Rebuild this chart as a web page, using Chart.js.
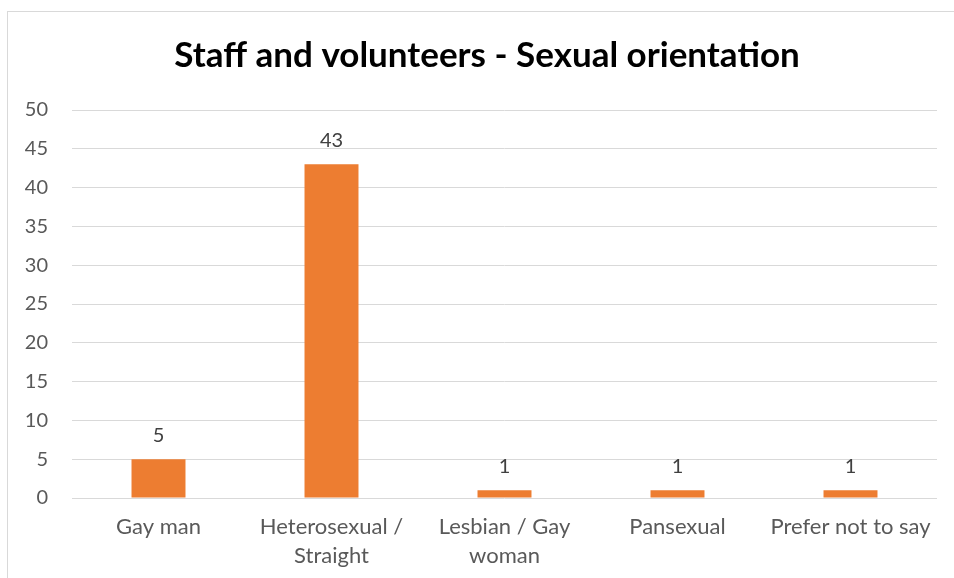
<!DOCTYPE html>
<html>
<head>
<meta charset="utf-8">
<script src="https://cdn.jsdelivr.net/npm/chart.js@4"></script>
<style>
  html, body { margin: 0; padding: 0; background: #fff; overflow: hidden; }
  #frame {
    position: absolute; left: 7px; top: 11px; width: 960px; height: 580px;
    border-left: 1px solid #d9d9d9; border-top: 1px solid #d9d9d9;
  }
  #grafico { position: absolute; left: 0; top: 0; }
</style>
</head>
<body>
<div id="frame"></div>
<canvas id="grafico" width="954" height="578"></canvas>
<script>
// Categorias y cantidades
const categorias = [
  "Gay man",
  ["Heterosexual /", "Straight"],
  ["Lesbian / Gay", "woman"],
  "Pansexual",
  "Prefer not to say"
];
const cantidades = [5, 43, 1, 1, 1];
const titulo = 'Staff and volunteers - Sexual orientation';

const naranja = '#ED7D31';
const fuente = 'Lato, "Open Sans", sans-serif';

// Titulo centrado sobre el recuadro del grafico
const tituloCentrado = {
  id: 'tituloCentrado',
  afterDraw(chart) {
    const ctx = chart.ctx;
    ctx.save();
    ctx.font = 'bold 35px ' + fuente;
    ctx.fillStyle = '#000';
    ctx.textAlign = 'center';
    ctx.textBaseline = 'middle';
    ctx.fillText(titulo, 487, 56);
    ctx.restore();
  }
};

// Escribe el valor encima de cada barra
const etiquetasValor = {
  id: 'etiquetasValor',
  afterDatasetsDraw(chart) {
    const ctx = chart.ctx;
    const meta = chart.getDatasetMeta(0);
    ctx.save();
    ctx.font = '20px ' + fuente;
    ctx.fillStyle = '#404040';
    ctx.textAlign = 'center';
    ctx.textBaseline = 'alphabetic';
    meta.data.forEach((bar, i) => {
      ctx.fillText(String(cantidades[i]), bar.x, bar.y - 17);
    });
    ctx.restore();
  }
};

new Chart(document.getElementById('grafico'), {
  type: 'bar',
  data: {
    labels: categorias,
    datasets: [{
      label: 'Cantidad',
      data: cantidades,
      backgroundColor: naranja,
      borderWidth: 0,
      barPercentage: 0.312,
      categoryPercentage: 1
    }]
  },
  options: {
    responsive: false,
    devicePixelRatio: 1,
    animation: false,
    layout: { padding: { left: 0, right: 17, top: 110, bottom: 0 } },
    plugins: {
      legend: { display: false },
      tooltip: { enabled: false },
      title: { display: false }
    },
    scales: {
      x: {
        grid: { display: false, drawTicks: false },
        border: { display: false },
        ticks: {
          color: '#595959',
          font: { family: fuente, size: 22, lineHeight: 1.3 },
          padding: 15,
          maxRotation: 0,
          autoSkip: false
        },
        afterFit(scale) { scale.height = 80; }
      },
      y: {
        min: 0,
        max: 50,
        grid: { color: '#d9d9d9', lineWidth: 1, drawTicks: false },
        border: { display: false },
        ticks: {
          stepSize: 5,
          color: '#595959',
          font: { family: fuente, size: 20 },
          padding: 24
        },
        afterFit(scale) { scale.width = 72; }
      }
    }
  },
  plugins: [etiquetasValor, tituloCentrado]
});
</script>
</body>
</html>
